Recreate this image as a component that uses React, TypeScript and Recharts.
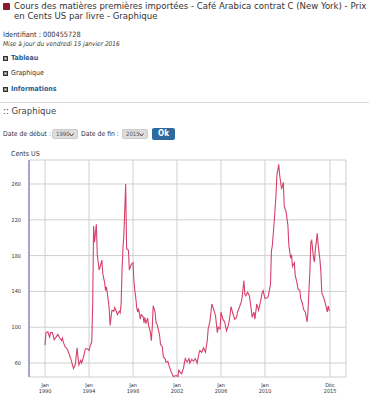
import React from 'react';
import { LineChart, Line, CartesianGrid, XAxis, YAxis } from 'recharts';

// month offset from Jan 1990, and price in US cents per pound
const monthOffsets = [
  0, 1, 3, 5, 6, 8, 10, 12, 14, 16,
  18, 19, 20, 22, 24, 26, 28, 30, 31, 33,
  35, 36, 37, 39, 40, 42, 44, 46, 48, 49,
  51, 52, 53, 54, 56, 57, 59, 60, 62, 63,
  65, 66, 67, 69, 70, 71, 72, 73, 75, 76,
  78, 79, 81, 82, 83, 84, 85, 86, 88, 89,
  91, 92, 94, 95, 96, 97, 98, 99, 100, 101,
  102, 104, 105, 107, 108, 109, 110, 112, 113, 115,
  116, 117, 118, 120, 121, 122, 124, 125, 126, 128,
  129, 131, 132, 134, 135, 137, 138, 140, 143, 145,
  146, 148, 149, 151, 153, 155, 157, 158, 160, 162,
  164, 166, 168, 169, 171, 173, 175, 177, 178, 180,
  182, 184, 186, 188, 189, 191, 192, 194, 196, 198,
  200, 201, 203, 205, 207, 209, 210, 212, 214, 215,
  217, 218, 219, 221, 223, 225, 226, 228, 229, 231,
  233, 235, 237, 238, 240, 243, 244, 246, 247, 248,
  250, 252, 253, 255, 256, 258, 259, 260, 261, 263,
  265, 266, 268, 269, 270, 272, 273, 275, 276, 278,
  279, 281, 282, 284, 285, 286, 287, 288, 289, 290,
  291, 293, 294, 295, 296, 297, 298, 300, 301, 302,
  303, 305, 306, 308, 309, 310, 311,
];

const prices = [
  80, 94, 95, 89, 94, 94, 86, 89, 92, 88,
  85, 88, 83, 78, 76, 71, 65, 58, 54, 58,
  77, 66, 58, 63, 60, 67, 76, 76, 74, 78,
  84, 126, 213, 195, 215, 181, 164, 167, 175, 160,
  150, 141, 145, 130, 121, 102, 111, 119, 118, 122,
  117, 114, 118, 116, 126, 163, 188, 203, 260, 188,
  186, 164, 170, 171, 172, 151, 141, 133, 122, 117,
  121, 109, 114, 112, 105, 111, 104, 110, 102, 94,
  85, 100, 124, 117, 106, 104, 96, 91, 81, 78,
  67, 65, 61, 62, 58, 52, 49, 45, 46, 45,
  52, 49, 48, 54, 65, 61, 65, 60, 64, 62,
  65, 60, 71, 74, 72, 77, 72, 85, 98, 107,
  126, 120, 113, 94, 100, 98, 117, 109, 106, 96,
  102, 107, 123, 115, 109, 111, 117, 122, 128, 133,
  152, 137, 135, 139, 135, 120, 111, 117, 109, 126,
  119, 128, 139, 141, 132, 133, 137, 148, 185, 191,
  217, 247, 270, 282, 270, 255, 257, 262, 235, 229,
  214, 192, 177, 181, 168, 172, 158, 149, 143, 141,
  132, 126, 120, 117, 111, 106, 119, 141, 163, 195,
  197, 177, 173, 188, 195, 205, 192, 175, 162, 138,
  136, 130, 126, 117, 124, 119, 119,
];

const xTicks = [0, 48, 96, 144, 192, 240, 311];
const xTickMonths = ['Jan', 'Jan', 'Jan', 'Jan', 'Jan', 'Jan', 'Déc'];
const xTickYears = ['1990', '1994', '1998', '2002', '2006', '2010', '2015'];
const yTicks = [60, 100, 140, 180, 220, 260];

const data = monthOffsets.map((m, i) => ({ m, price: prices[i] }));

const FONT = '"DejaVu Sans Condensed", "DejaVu Sans", sans-serif';
const LINK = '#2b5c8f';

const XTick = (props: any) => {
  const idx = xTicks.indexOf(props.payload.value);
  return (
    <text x={props.x} textAnchor="middle" fontSize={5.5} fill="#333" fontFamily={FONT}>
      <tspan x={props.x} y={props.y + 2}>{xTickMonths[idx]}</tspan>
      <tspan x={props.x} y={props.y + 8}>{xTickYears[idx]}</tspan>
    </text>
  );
};

const Bullet = ({ top }: { top: number }) => (
  <div style={{ position: 'absolute', left: 3, top, width: 3, height: 3, border: '1px solid #333', background: '#fff', boxShadow: 'inset 0 0 0 1px #888' }} />
);

const Select = ({ left, label }: { left: number; label: string }) => (
  <div style={{ position: 'absolute', left, top: 129, width: 26, height: 10, background: '#ddd', border: '1px solid #ccc', borderRadius: 2, boxSizing: 'border-box', fontSize: 6, lineHeight: '8px', color: '#555', paddingLeft: 3 }}>
    {label}
    <svg width={5} height={4} style={{ position: 'absolute', right: 3, top: 3 }}>
      <polyline points="0.5,0.5 2.5,3 4.5,0.5" fill="none" stroke="#444" strokeWidth={1} />
    </svg>
  </div>
);

export default function App() {
  const text = (top: number, left: number, size: number, extra: React.CSSProperties = {}) => ({
    position: 'absolute' as const, top, left, fontSize: size, lineHeight: 1, whiteSpace: 'nowrap' as const, color: '#333', ...extra,
  });

  return (
    <div style={{ position: 'absolute', left: 0, top: 0, width: 369, height: 400, overflow: 'hidden', background: '#fff', fontFamily: FONT }}>
      <div style={{ position: 'absolute', left: 3, top: 3, width: 7, height: 7, background: '#8a1a31', borderRadius: 1 }} />
      <div style={{ position: 'absolute', left: 14, top: 1, fontSize: 9.5, lineHeight: '10px', color: '#333', whiteSpace: 'nowrap' }}>
        Cours des matières premières importées - Café Arabica contrat C (New York) - Prix
        <br />
        en Cents US par livre - Graphique
      </div>

      <div style={text(30.5, 3, 7.3)}>Identifiant : 000455728</div>
      <div style={text(41, 3, 6.5, { fontStyle: 'italic' })}>Mise à jour du vendredi 15 janvier 2016</div>

      <Bullet top={56} />
      <div style={text(54.5, 11, 7, { fontWeight: 'bold', color: LINK })}>Tableau</div>
      <Bullet top={71} />
      <div style={text(69.5, 11, 7)}>Graphique</div>
      <Bullet top={87} />
      <div style={text(85.5, 11, 7, { fontWeight: 'bold', color: LINK })}>Informations</div>

      <div style={{ position: 'absolute', left: 0, top: 102, width: 369, height: 1, background: '#d8d8d8' }} />
      <div style={text(106, 3, 9.5, { color: '#444' })}>:: Graphique</div>

      <div style={text(131, 3, 6.8)}>Date de début :</div>
      <Select left={52} label="1990" />
      <div style={text(131, 81, 6.8)}>Date de fin :</div>
      <Select left={122} label="2015" />
      <div style={{ position: 'absolute', left: 152, top: 128, width: 23, height: 12, background: '#2e6a9e', borderRadius: 2, color: '#fff', fontWeight: 'bold', fontSize: 8, lineHeight: '12px', textAlign: 'center' }}>Ok</div>

      <div style={text(151, 11, 7)}>Cents US</div>

      <div style={{ position: 'absolute', left: 0, top: 150 }}>
        <LineChart width={369} height={250} data={data} margin={{ top: 10, right: 23, left: 0, bottom: 0 }}>
          <CartesianGrid stroke="#cfcfcf" strokeWidth={1} />
          <XAxis
            dataKey="m"
            type="number"
            domain={[-17.5, 328.4]}
            ticks={xTicks}
            tick={<XTick />}
            axisLine={false}
            tickLine={false}
            height={23}
            interval={0}
          />
          <YAxis
            type="number"
            domain={[44.4, 286.8]}
            ticks={yTicks}
            width={29}
            axisLine={{ stroke: '#8f8fc4', strokeWidth: 1.5 }}
            tickLine={false}
            tick={{ fontSize: 5.5, fill: '#333', fontFamily: FONT }}
            interval={0}
          />
          <Line
            type="linear"
            dataKey="price"
            stroke="#d6416b"
            strokeWidth={1.1}
            dot={false}
            isAnimationActive={false}
          />
        </LineChart>
      </div>
    </div>
  );
}
